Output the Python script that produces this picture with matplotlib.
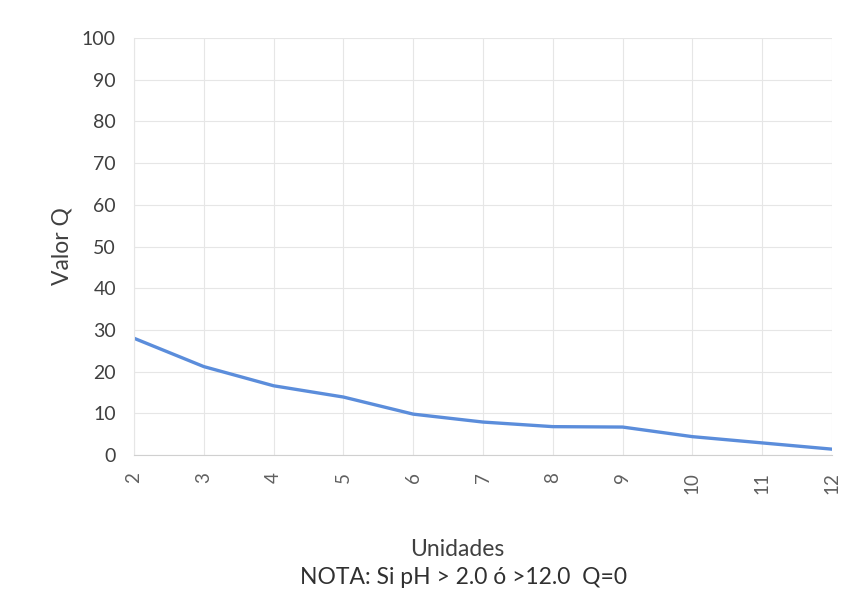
import matplotlib
matplotlib.use("Agg")
import matplotlib.pyplot as plt

plt.rcParams['font.family'] = ['Lato', 'DejaVu Sans']

units = [2, 3, 4, 5, 6, 7, 8, 9, 10, 11, 12]
q_values = [28, 21.2, 16.6, 13.9, 9.8, 7.9, 6.8, 6.7, 4.4, 2.9, 1.4]
y_ticks = [0, 10, 20, 30, 40, 50, 60, 70, 80, 90, 100]

fig = plt.figure(figsize=(8.5, 5.98), dpi=100)
ax = fig.add_axes([134/850, 1-455/598, (832-134)/850, (455-38)/598])

ax.plot(units, q_values, color='#5B8DDB', lw=2.4, solid_capstyle='round')
ax.set_xlim(2, 12)
ax.set_ylim(0, 100)
ax.set_xticks(units)
ax.set_xticklabels([str(u) for u in units], rotation=90, fontsize=13.5, color='#606060')
ax.set_yticks(y_ticks)
ax.set_yticklabels([str(v) for v in y_ticks], fontsize=14, color='#404040')
ax.grid(True, color='#E6E6E6', lw=0.8)
ax.set_axisbelow(True)
for s in ['top', 'right']:
    ax.spines[s].set_visible(False)
ax.spines['left'].set_color('#E6E6E6')
ax.spines['bottom'].set_color('#D0D0D0')
ax.tick_params(axis='y', length=0, pad=13)
ax.tick_params(axis='x', length=0, pad=12)

ax.set_ylabel('Valor Q', fontsize=16.5, color='#404040', labelpad=7)
fig.text(457/850, 1-549/598, 'Unidades', ha='center', va='center', fontsize=16.5, color='#404040')
fig.text(464/850, 1-578/598, 'NOTA: Si pH > 2.0 ó >12.0  Q=0', ha='center', va='center', fontsize=16.5, color='#303030')

fig.savefig('out.png', dpi=100, facecolor='white')
